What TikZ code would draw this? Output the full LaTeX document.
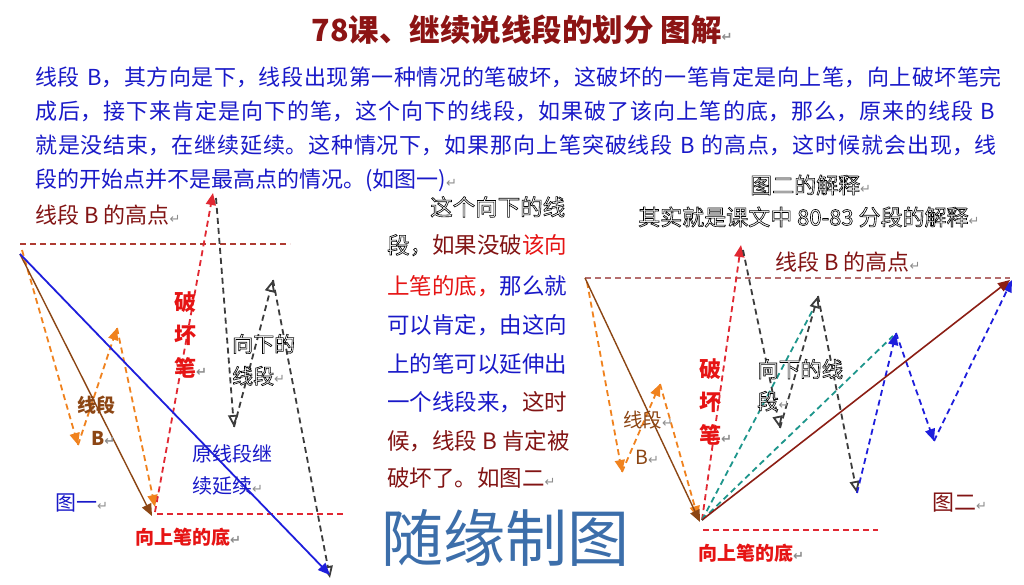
\documentclass[tikz,border=0pt]{standalone}
\usepackage{fontspec}
\setmainfont{Noto Sans CJK SC}
\newfontfamily\djv{DejaVu Sans}
\usetikzlibrary{arrows.meta}
\definecolor{titlered}{RGB}{140,20,20}
\definecolor{bodyblue}{RGB}{25,25,200}
\definecolor{dred}{RGB}{130,20,20}
\definecolor{bred}{RGB}{230,20,20}
\definecolor{lbrown}{RGB}{140,70,20}
\definecolor{lorange}{RGB}{240,130,30}
\definecolor{topdash}{RGB}{175,60,50}
\definecolor{topdashb}{RGB}{180,110,110}
\definecolor{rdash}{RGB}{225,40,50}
\definecolor{gdash}{RGB}{60,60,60}
\definecolor{teal2}{RGB}{30,150,140}
\definecolor{lblue}{RGB}{30,30,220}
\definecolor{riser}{RGB}{140,30,20}
\definecolor{wmark}{RGB}{60,110,170}
\definecolor{retgray}{RGB}{140,140,140}
\newcommand\retmark{{\djv\color{retgray}\fontsize{13}{13}\selectfont ↵}}
\newcommand\outlinetext[1]{\special{pdf:literal direct 2 Tr 0.6 w 0 0 0 RG}#1\special{pdf:literal direct 0 Tr}}
\newcommand\jline[1]{\noindent\XeTeXlinebreaklocale "zh"\XeTeXlinebreakskip=0pt plus 3pt\parfillskip=0pt #1\par}
\tikzset{
  lab/.style={inner sep=0pt, font=\fontsize{22}{22}\selectfont},
  bodyline/.style={inner sep=0pt, anchor=base west, text width=975pt, text=bodyblue, font=\fontsize{22}{22}\selectfont},
  midline/.style={inner sep=0pt, anchor=base west, font=\fontsize{22.5}{22.5}\selectfont},
  outl/.style={inner sep=0pt, text=white},
  tip/.style={-{Triangle[length=12pt,width=10pt]}},
  htip/.style={-{Triangle[length=12pt,width=10pt,fill=white]}},
  dl/.style={dashed, dash pattern=on 6pt off 4pt, line width=1.8pt},
}
\begin{document}
\begin{tikzpicture}[x=1pt,y=-1pt]
\fill[white] (0,0) rectangle (1024,585);
\useasboundingbox (0,0) rectangle (1024,585);

% title
\node[inner sep=0pt, text=titlered, font=\bfseries\fontsize{30.5}{30.5}\selectfont] (title) at (522,30) {78课、继续说线段的划分 图解\retmark};

% body
\node[bodyline] (b1) at (35,85.5) {\jline{线段 B，其方向是下，线段出现第一种情况的笔破坏，这破坏的一笔肯定是向上笔，向上破坏笔完}};
\node[bodyline] (b2) at (35,119.5) {\jline{成后，接下来肯定是向下的笔，这个向下的线段，如果破了该向上笔的底，那么，原来的线段 B}};
\node[bodyline] (b3) at (35,153.5) {\jline{就是没结束，在继续延续。这种情况下，如果那向上笔突破线段 B 的高点，这时候就会出现，线}};
\node[inner sep=0pt, anchor=base west, text=bodyblue, font=\fontsize{22}{22}\selectfont] (b4) at (35,187.5) {段的开始点并不是最高点的情况。(如图一)\retmark};

% ---------------- figure 1 ----------------
\coordinate (f1hl) at (20,244);
\coordinate (f1hr) at (290,244);
\coordinate (f1s) at (20,254);
\coordinate (f1be) at (330,575);
\coordinate (f1bb) at (152,516);
\coordinate (f1o0) at (22,250);
\coordinate (f1o1) at (78,445);
\coordinate (f1o2) at (117,328);
\coordinate (f1o3) at (155,507);
\coordinate (f1rs) at (155,512);
\coordinate (f1r) at (213,193);
\coordinate (f1bl) at (157,514);
\coordinate (f1br) at (345,514);
\coordinate (f1g0) at (216,198);
\coordinate (f1g1) at (234,427);
\coordinate (f1g2) at (273,280);
\coordinate (f1g3) at (330,578);

\draw[dl, topdash] (f1hl) -- (f1hr);
\draw[dl, rdash] (f1bl) -- (f1br);
\draw[dl, lorange, tip] (f1o0) -- (f1o1);
\draw[dl, lorange, tip] (f1o1) -- (f1o2);
\draw[dl, lorange, tip] (f1o2) -- (f1o3);
\draw[lbrown, line width=1.4pt, tip] (f1s) -- (f1bb);
\draw[dl, rdash, tip] (f1rs) -- (f1r);
\draw[dl, gdash, htip] (f1g0) -- (f1g1);
\draw[dl, gdash, htip] (f1g1) -- (f1g2);
\draw[dl, gdash, htip] (f1g2) -- (f1g3);
\draw[lblue, line width=1.8pt, tip] (f1s) -- (f1be);

\node[lab, anchor=west, text=dred] (f1high) at (35,215) {线段 B 的高点\retmark};
\node[inner sep=0pt, anchor=north west, align=left, text=bred, font=\bfseries\fontsize{22}{33}\selectfont] (f1break) at (174,291) {破\\坏\\笔\retmark};
\node[inner sep=0pt, anchor=center, text=lbrown, font=\bfseries\fontsize{19}{19}\selectfont] (f1seg) at (96,405) {线段};
\node[inner sep=0pt, anchor=west, text=lbrown, font=\bfseries\fontsize{19}{19}\selectfont] (f1B) at (91,438) {B\retmark};
\node[inner sep=0pt, anchor=north west, align=left, text=bodyblue, font=\fontsize{20}{32}\selectfont] (f1orig) at (192,444) {原线段继\\续延续\retmark};
\node[inner sep=0pt, anchor=west, text=bodyblue, font=\fontsize{21}{21}\selectfont] (f1fig) at (55,503) {图一\retmark};
\node[inner sep=0pt, anchor=west, text=bred, font=\bfseries\fontsize{19}{19}\selectfont] (f1bottom) at (135,537) {向上笔的底\retmark};

% ---------------- middle paragraph ----------------
\node[midline, outl] (m1) at (430,215.5) {\outlinetext{这个向下的线}};
\node[midline] (m2) at (387,253.5) {\textcolor{white}{\outlinetext{段，}}\textcolor{dred}{如果没破}\textcolor{bred}{该向}};
\node[midline] (m3) at (387,294.5) {\textcolor{bred}{上笔的底，}\textcolor{bodyblue}{那么就}};
\node[midline, text=bodyblue] (m4) at (387,333.5) {可以肯定，由这向};
\node[midline, text=bodyblue] (m5) at (387,372.5) {上的笔可以延伸出};
\node[midline] (m6) at (387,410.5) {\textcolor{bodyblue}{一个线段来，}\textcolor{dred}{这时}};
\node[midline, text=dred] (m7) at (387,449.5) {候，线段 B 肯定被};
\node[midline, text=dred] (m8) at (387,486.5) {破坏了。如图二\retmark};

% ---------------- figure 2 ----------------
\coordinate (f2hl) at (585,278);
\coordinate (f2hr) at (1010,278);
\coordinate (f2s) at (585,278);
\coordinate (f2b) at (700,522);
\coordinate (f2o0) at (587,282);
\coordinate (f2o1) at (622,472);
\coordinate (f2o2) at (660,384);
\coordinate (f2o3) at (698,518);
\coordinate (f2rs) at (702,520);
\coordinate (f2r) at (741,245);
\coordinate (f2g0) at (743,250);
\coordinate (f2g1) at (780,428);
\coordinate (f2g2) at (818,296);
\coordinate (f2g3) at (857,493);
\coordinate (f2t1) at (818,300);
\coordinate (f2t2) at (893,336);
\coordinate (f2u1) at (896,333);
\coordinate (f2u2) at (934,441);
\coordinate (f2u3) at (1012,280);
\coordinate (f2re) at (1010,280);
\coordinate (f2bl) at (703,530);
\coordinate (f2br) at (878,530);

\draw[dl, topdashb] (f2hl) -- (f2hr);
\draw[dl, rdash] (f2bl) -- (f2br);
\draw[dl, lorange, tip] (f2o0) -- (f2o1);
\draw[dl, lorange, tip] (f2o1) -- (f2o2);
\draw[dl, lorange, tip] (f2o2) -- (f2o3);
\draw[lbrown, line width=1.4pt, tip] (f2s) -- (f2b);
\draw[dl, rdash, tip] (f2rs) -- (f2r);
\draw[dl, teal2] (f2rs) -- (f2t1);
\draw[dl, teal2] (f2rs) -- (f2t2);
\draw[dl, gdash, htip] (f2g0) -- (f2g1);
\draw[dl, gdash, htip] (f2g1) -- (f2g2);
\draw[dl, gdash, htip] (f2g2) -- (f2g3);
\draw[dl, lblue, tip] (f2g3) -- (f2u1);
\draw[dl, lblue, tip] (f2u1) -- (f2u2);
\draw[dl, lblue, tip] (f2u2) -- (f2u3);
\draw[riser, line width=1.6pt, tip] (f2rs) -- (f2re);

\node[lab, anchor=west, outl] (f2t) at (750,185) {\outlinetext{图二的解释}\retmark};
\node[lab, anchor=west, outl] (f2sub) at (638,217) {\outlinetext{其实就是课文中 80-83 分段的解释}\retmark};
\node[lab, anchor=west, text=dred] (f2high) at (775,262) {线段 B 的高点\retmark};
\node[inner sep=0pt, anchor=north west, align=left, text=bred, font=\bfseries\fontsize{22}{33}\selectfont] (f2break) at (699,358) {破\\坏\\笔\retmark};
\node[inner sep=0pt, anchor=north west, align=left, text=white, font=\fontsize{21.5}{32}\selectfont] (f2down) at (757,359) {\outlinetext{向下的线}\\\outlinetext{段}\retmark};
\node[inner sep=0pt, anchor=west, text=lbrown, font=\fontsize{19.5}{19.5}\selectfont] (f2seg) at (623,420) {线段\retmark};
\node[inner sep=0pt, anchor=west, text=lbrown, font=\fontsize{19.5}{19.5}\selectfont] (f2B) at (635,457) {B\retmark};
\node[lab, anchor=west, text=dred] (f2fig) at (932,503) {图二\retmark};
\node[inner sep=0pt, anchor=west, text=bred, font=\bfseries\fontsize{19}{19}\selectfont] (f2bottom) at (698,553) {向上笔的底\retmark};

% fig1 outlined label
\node[inner sep=0pt, anchor=north west, align=left, text=white, font=\fontsize{21}{32}\selectfont] (f1down) at (232,334) {\outlinetext{向下的}\\\outlinetext{线段}\retmark};

% watermark
\node[inner sep=0pt, text=wmark, font=\fontsize{62}{62}\selectfont] (wm) at (505,538) {随缘制图};
\end{tikzpicture}
\end{document}
